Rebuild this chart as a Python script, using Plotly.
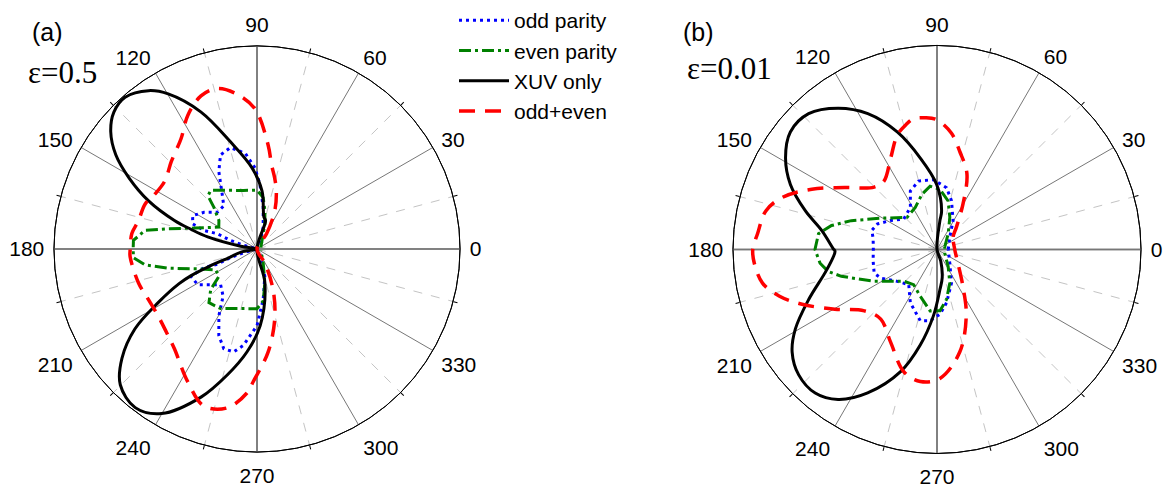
import plotly.graph_objects as go

W, H = 1165, 487

# ---- panel (a): eps = 0.5 ----
a_odd_theta = [60, 74.2, 81.5, 87.4, 91.4, 97, 104.7, 111.2, 116.2, 122.5, 127.6, 137.3, 145.3, 152.6, 158.7,
               160.7, 159, 162, 164.5, 180, 195.5, 198, 201, 199.5, 202.5, 211, 217.6, 224.4, 234.3, 240.3,
               246.2, 251.6, 257.2, 262, 270, 277, 286, 300]
a_odd_r = [0.03, 0.112, 0.207, 0.318, 0.399, 0.475, 0.516, 0.497, 0.426, 0.319, 0.268, 0.266, 0.317, 0.357, 0.34,
           0.276, 0.21, 0.138, 0.069, 0, 0.069, 0.138, 0.21, 0.276, 0.352, 0.341, 0.288, 0.251, 0.286, 0.379,
           0.466, 0.518, 0.52, 0.479, 0.378, 0.25, 0.14, 0.03]

a_even_theta = [20, 72.6, 78.3, 83.1, 90, 103, 117, 128.3, 132.7, 136, 143.3, 150.2, 161.6, 167.2, 170.6, 176,
                180, 184, 188.1, 192.2, 198.5, 206.8, 215.7, 221.2, 228.2, 238.6, 254.3, 270, 276.8, 283, 293.5, 340]
a_even_r = [0.02, 0.13, 0.192, 0.255, 0.289, 0.296, 0.324, 0.368, 0.356, 0.295, 0.234, 0.217, 0.326, 0.449, 0.559,
            0.61, 0.61, 0.61, 0.557, 0.448, 0.309, 0.228, 0.231, 0.303, 0.355, 0.344, 0.305, 0.294, 0.258, 0.172,
            0.077, 0.02]

a_xuv_theta = [65, 73.2, 77.7, 85, 93.5, 104, 112.3, 119.8, 124.4, 131, 136.3, 141.3, 146.3, 151, 156.1, 161,
               163.4, 166.3, 170.5, 180, 191, 197, 200, 202, 204, 208.5, 213.2, 219, 224.8, 232.5, 239.9, 249.3,
               256.7, 264.4, 272.4, 283.1, 292]
a_xuv_r = [0, 0.146, 0.16, 0.286, 0.40, 0.545, 0.73, 0.88, 0.945, 0.99, 0.975, 0.923, 0.836, 0.72, 0.584, 0.43,
           0.34, 0.25, 0.082, 0, 0.08, 0.14, 0.25, 0.35, 0.42, 0.554, 0.718, 0.856, 0.949, 0.985, 0.937, 0.78,
           0.638, 0.51, 0.378, 0.172, 0]

a_sum_theta = [50, 58, 65.1, 71.5, 76, 80.2, 83.9, 90.8, 97.4, 103.9, 110.1, 117.4, 124.5, 134.4, 143.7, 151.8,
               158.2, 166.5, 173, 180.6, 183.5, 196, 204.9, 214, 222.6, 230.4, 242.4, 251.4, 259.4, 266, 268.4,
               276.2, 284.2, 291.6, 298.9, 305]
a_sum_r = [0, 0.089, 0.208, 0.30, 0.36, 0.421, 0.515, 0.69, 0.769, 0.814, 0.803, 0.741, 0.66, 0.603, 0.564, 0.571,
           0.594, 0.60, 0.621, 0.625, 0.626, 0.607, 0.59, 0.588, 0.606, 0.638, 0.737, 0.817, 0.796, 0.711, 0.653,
           0.51, 0.356, 0.215, 0.08, 0]

# ---- panel (b): eps = 0.01 ----
b_odd_theta = [0, 44.3, 60.9, 73.4, 81.2, 93, 105.1, 114.5, 122.3, 137.4, 148, 156.7, 163.7, 170, 180, 190, 200.6,
               207, 218.7, 231.2, 243.4, 256.8, 264.5, 272.6, 280.2, 293.4, 312.9, 360]
b_odd_r = [0.055, 0.088, 0.162, 0.249, 0.306, 0.343, 0.347, 0.315, 0.244, 0.221, 0.268, 0.317, 0.333, 0.318, 0.312,
           0.318, 0.329, 0.309, 0.25, 0.221, 0.292, 0.359, 0.351, 0.318, 0.265, 0.179, 0.092, 0.055]

b_even_theta = [18, 54.8, 68.3, 77.1, 87.2, 96.2, 105.3, 117.3, 132.8, 150.9, 161.4, 167.2, 172.4, 180, 186.7,
                191.4, 195.7, 206.9, 223.8, 236.4, 250.2, 263.6, 272.8, 280.8, 290.9, 303.2, 333, 378]
b_even_r = [0.04, 0.095, 0.17, 0.244, 0.295, 0.312, 0.28, 0.232, 0.215, 0.315, 0.443, 0.53, 0.586, 0.598, 0.577,
            0.544, 0.487, 0.345, 0.225, 0.207, 0.243, 0.303, 0.301, 0.249, 0.176, 0.1, 0.043, 0.04]

b_xuv_theta = [60, 84.2, 83.2, 90.3, 100, 108.7, 117, 125, 133.4, 141.3, 148.9, 156.1, 163.6, 170.6, 179.5, 181,
               190.5, 201.3, 209.3, 215.3, 222.2, 229.7, 236.6, 244.2, 253.4, 260, 266.9, 274.2, 280.5, 288, 300]
b_xuv_r = [0, 0.142, 0.191, 0.319, 0.45, 0.608, 0.747, 0.845, 0.916, 0.921, 0.867, 0.786, 0.673, 0.573, 0.509, 0.5,
           0.55, 0.675, 0.796, 0.87, 0.915, 0.923, 0.881, 0.781, 0.625, 0.477, 0.326, 0.197, 0.14, 0.06, 0]

b_sum_theta = [0, 37.9, 49, 60.2, 68.5, 77, 83, 90, 95, 100.1, 104, 109.2, 116.9, 127.8, 135.2, 146.2, 154.3, 161.4,
               167.3, 175, 180, 184.3, 190.9, 196.4, 202.1, 210.3, 220.2, 231.1, 243.4, 254.8, 262.8, 271.3, 282.5,
               293.8, 305.2, 339.7, 360]
b_sum_r = [0.087, 0.1, 0.145, 0.256, 0.40, 0.494, 0.575, 0.635, 0.648, 0.651, 0.63, 0.593, 0.502, 0.424, 0.434,
           0.545, 0.681, 0.80, 0.86, 0.883, 0.903, 0.898, 0.871, 0.807, 0.714, 0.58, 0.466, 0.439, 0.508, 0.621,
           0.652, 0.632, 0.515, 0.355, 0.22, 0.101, 0.087]

names = ['odd parity', 'even parity', 'XUV only', 'odd+even']
styles = [dict(color='#0000FF', width=3, dash='3px,4px'),
          dict(color='#008000', width=3, dash='12px,4px,3px,4px'),
          dict(color='black', width=3, dash='solid'),
          dict(color='#FF0000', width=3.5, dash='16px,10px')]
shapes = ['linear', 'linear', 'spline', 'spline']

angles = list(range(0, 360, 30))
minor_angles = list(range(15, 360, 30))
axis_angles = [0, 90, 180, 270]

fig = go.Figure()

# empty traces so the grid-only layers get drawn
for sub in ['polar', 'polar2', 'polar4', 'polar5']:
    fig.add_trace(go.Scatterpolar(r=[0], theta=[0], mode='markers', marker=dict(opacity=0),
                                  subplot=sub, showlegend=False, hoverinfo='skip'))

panels = [
    ('polar3', [(a_odd_theta, a_odd_r), (a_even_theta, a_even_r), (a_xuv_theta, a_xuv_r), (a_sum_theta, a_sum_r)], True),
    ('polar6', [(b_odd_theta, b_odd_r), (b_even_theta, b_even_r), (b_xuv_theta, b_xuv_r), (b_sum_theta, b_sum_r)], False),
]
for sub, curves, show in panels:
    for (th, r), name, st, shp in zip(curves, names, styles, shapes):
        line = dict(st)
        line['shape'] = shp
        fig.add_trace(go.Scatterpolar(theta=th, r=r, mode='lines', name=name, line=line,
                                      subplot=sub, showlegend=show))

def px_dom(cx, cy, R):
    return dict(x=[(cx - R) / W, (cx + R) / W], y=[(H - cy - R) / H, (H - cy + R) / H])

dom_a = px_dom(257, 245.5, 206)
dom_b = px_dom(937, 246, 207)

tick_font = dict(family='Liberation Sans, Arial', size=21, color='black')
radial = dict(visible=False, range=[0, 1])

def back_polar(dom):
    return dict(domain=dom, bgcolor='white', radialaxis=radial,
                angularaxis=dict(tickmode='array', tickvals=minor_angles, showticklabels=False,
                                 gridcolor='#c4c4c4', griddash='dash', gridwidth=1,
                                 ticks='outside', ticklen=4, tickcolor='black',
                                 showline=True, linecolor='black', linewidth=1,
                                 rotation=0, direction='counterclockwise'))

def cross_polar(dom):
    return dict(domain=dom, bgcolor='rgba(0,0,0,0)', radialaxis=radial,
                angularaxis=dict(tickmode='array', tickvals=axis_angles, showticklabels=False,
                                 gridcolor='#8c8c8c', gridwidth=2, ticks='',
                                 showline=False, rotation=0, direction='counterclockwise'))

def main_polar(dom):
    return dict(domain=dom, bgcolor='rgba(0,0,0,0)', radialaxis=radial,
                angularaxis=dict(tickmode='array', tickvals=angles, ticktext=[str(a) for a in angles],
                                 tickfont=tick_font, gridcolor='#777777', gridwidth=1,
                                 ticks='outside', ticklen=5, tickcolor='rgba(0,0,0,0)',
                                 showline=True, linecolor='black', linewidth=1,
                                 rotation=0, direction='counterclockwise'))

label_font = dict(family='Liberation Sans, Arial', size=25, color='black')
eps_font = dict(family='Liberation Serif, Times New Roman', size=31, color='black')

fig.update_layout(
    width=W, height=H,
    margin=dict(l=0, r=0, t=0, b=0),
    paper_bgcolor='white',
    template='none',
    polar=back_polar(dom_a),
    polar2=cross_polar(dom_a),
    polar3=main_polar(dom_a),
    polar4=back_polar(dom_b),
    polar5=cross_polar(dom_b),
    polar6=main_polar(dom_b),
    legend=dict(x=454 / W, y=1.015, xanchor='left', yanchor='top', bgcolor='rgba(0,0,0,0)',
                font=dict(family='Liberation Sans, Arial', size=21, color='black'),
                tracegroupgap=0, itemwidth=50),
    annotations=[
        dict(text='(a)', x=30 / W, y=1 - 25 / H, xref='paper', yref='paper', xanchor='left', yanchor='middle',
             showarrow=False, font=label_font),
        dict(text='ε=0.5', x=26 / W, y=1 - 66 / H, xref='paper', yref='paper', xanchor='left', yanchor='middle',
             showarrow=False, font=eps_font),
        dict(text='(b)', x=681 / W, y=1 - 25 / H, xref='paper', yref='paper', xanchor='left', yanchor='middle',
             showarrow=False, font=label_font),
        dict(text='ε=0.01', x=685 / W, y=1 - 62 / H, xref='paper', yref='paper', xanchor='left', yanchor='middle',
             showarrow=False, font=eps_font),
    ],
)

fig.write_html("out.html", config={'displayModeBar': False},
               post_script="document.body.style.margin='0';")
